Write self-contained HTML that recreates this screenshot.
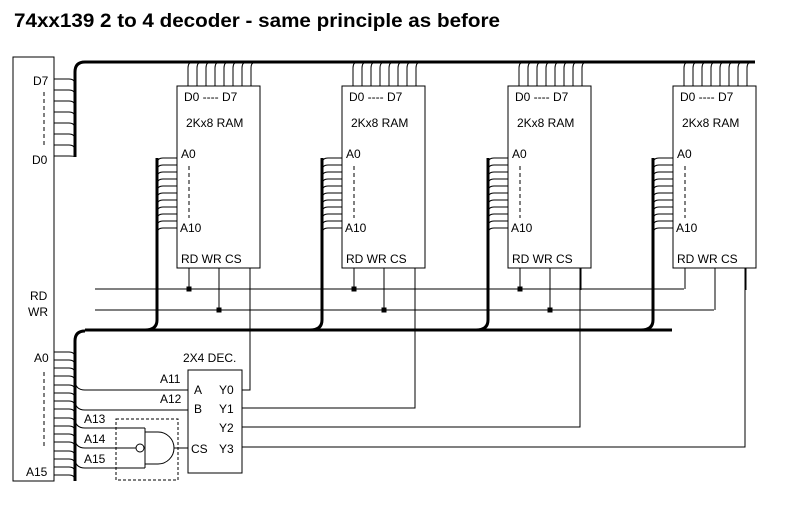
<!DOCTYPE html>
<html><head><meta charset="utf-8"><style>
html,body{margin:0;padding:0;background:#fff;width:786px;height:506px;overflow:hidden}
svg{display:block}
text{font-family:"Liberation Sans",sans-serif;font-size:12px;fill:#000}
</style></head><body>
<svg width="786" height="506" viewBox="0 0 786 506" xmlns="http://www.w3.org/2000/svg">
<defs>
<g id="chip" fill="none" stroke="#000" stroke-width="1">
<rect x="177" y="86" width="83" height="182" fill="#fff"/>
<path d="M188 86V68Q188 62 193 62M197 86V68Q197 62 202 62M206 86V68Q206 62 211 62M215 86V68Q215 62 220 62M224 86V68Q224 62 229 62M233 86V68Q233 62 238 62M242 86V68Q242 62 247 62M251 86V68Q251 62 256 62"/>
<path d="M177 158H163Q157 158 157 164M177 165H163Q157 165 157 171M177 172H163Q157 172 157 178M177 179H163Q157 179 157 185M177 186H163Q157 186 157 192M177 193H163Q157 193 157 199M177 200H163Q157 200 157 206M177 207H163Q157 207 157 213M177 214H163Q157 214 157 220M177 221H163Q157 221 157 227M177 228H163Q157 228 157 234"/>
<path d="M157 158V320Q157 330 145 330" stroke-width="3"/>
<path d="M189 268V289M219 268V310M250 268V290"/>
<line x1="189" y1="166" x2="189" y2="218" stroke-dasharray="4,3"/>
</g>
<g id="dots">
<rect x="186.5" y="286.5" width="5" height="5" fill="#000"/>
<rect x="216.5" y="307.5" width="5" height="5" fill="#000"/>
</g>
</defs>
<text x="14" y="27" style="font-size:19px;font-weight:bold" textLength="486" lengthAdjust="spacingAndGlyphs">74xx139 2 to 4 decoder - same principle as before</text>

<g fill="none" stroke="#000">
<path d="M75 157V72Q75 62 85 62H755" stroke-width="3"/>
<path d="M85 330H672" stroke-width="3"/>
<path d="M85 331Q75 331 75 341V481" stroke-width="3"/>
<path d="M95 289H684M95 310H714"/>
<rect x="13" y="57" width="41" height="424" fill="#fff"/>
<path d="M54 79H69Q75 79 75 85M54 90H69Q75 90 75 96M54 101H69Q75 101 75 107M54 112H69Q75 112 75 118M54 123H69Q75 123 75 129M54 134H69Q75 134 75 140M54 145H69Q75 145 75 151M54 156H69Q75 156 75 157"/>
<path d="M54 352H69Q75 352 75 358M54 360H69Q75 360 75 366M54 368H69Q75 368 75 374M54 376H69Q75 376 75 382M54 385H69Q75 385 75 391M54 393H69Q75 393 75 399M54 401H69Q75 401 75 407M54 409H69Q75 409 75 415M54 418H69Q75 418 75 424M54 426H69Q75 426 75 432M54 434H69Q75 434 75 440M54 442H69Q75 442 75 448M54 451H69Q75 451 75 457M54 459H69Q75 459 75 465M54 467H69Q75 467 75 473M54 475H69Q75 475 75 481"/>
<line x1="44" y1="92" x2="44" y2="146" stroke-dasharray="4,3"/>
<line x1="44" y1="372" x2="44" y2="448" stroke-dasharray="4,3"/>
</g>
<use href="#chip"/>
<use href="#chip" x="165"/>
<use href="#chip" x="331"/>
<use href="#chip" x="496"/>
<use href="#dots"/>
<use href="#dots" x="165"/>
<use href="#dots" x="331"/>
<g fill="none" stroke="#000">
<path d="M75 380Q75 390 85 390H188M75 400Q75 410 85 410H188M75 418Q75 428 85 428H145M75 438Q75 448 85 448H136M75 458Q75 468 85 468H145"/>
<rect x="116" y="419" width="62" height="61" stroke-dasharray="3,2"/>
<path d="M145 428V468M145 432H158A16 16 0 0 1 158 464H145"/>
<circle cx="140" cy="448" r="4" fill="#fff"/>
<path d="M174 448H188"/>
<rect x="188" y="370" width="54" height="103" fill="#fff"/>
<path d="M242 390H250V268M242 408H415V268M242 427H580V268M242 447H745V268"/>
</g>
<g>
<text x="33" y="85">D7</text><text x="32" y="164">D0</text>
<text x="30" y="300">RD</text><text x="28" y="316">WR</text>
<text x="34" y="362">A0</text><text x="26" y="476">A15</text>
<text x="184" y="101">D0 ---- D7</text><text x="186" y="127">2Kx8 RAM</text><text x="181" y="158">A0</text><text x="180" y="232">A10</text><text x="181" y="263">RD WR CS</text>
<text x="349" y="101">D0 ---- D7</text><text x="351" y="127">2Kx8 RAM</text><text x="346" y="158">A0</text><text x="345" y="232">A10</text><text x="346" y="263">RD WR CS</text>
<text x="515" y="101">D0 ---- D7</text><text x="517" y="127">2Kx8 RAM</text><text x="512" y="158">A0</text><text x="511" y="232">A10</text><text x="512" y="263">RD WR CS</text>
<text x="680" y="101">D0 ---- D7</text><text x="682" y="127">2Kx8 RAM</text><text x="677" y="158">A0</text><text x="676" y="232">A10</text><text x="677" y="263">RD WR CS</text>
<text x="183" y="362">2X4 DEC.</text>
<text x="160" y="383">A11</text><text x="160" y="403">A12</text>
<text x="84" y="423">A13</text><text x="84" y="443">A14</text><text x="84" y="463">A15</text>
<text x="194" y="394">A</text><text x="194" y="413">B</text>
<text x="219" y="394">Y0</text><text x="219" y="413">Y1</text><text x="219" y="432">Y2</text>
<text x="191" y="453">CS</text><text x="219" y="453">Y3</text>
</g>
</svg>
</body></html>
